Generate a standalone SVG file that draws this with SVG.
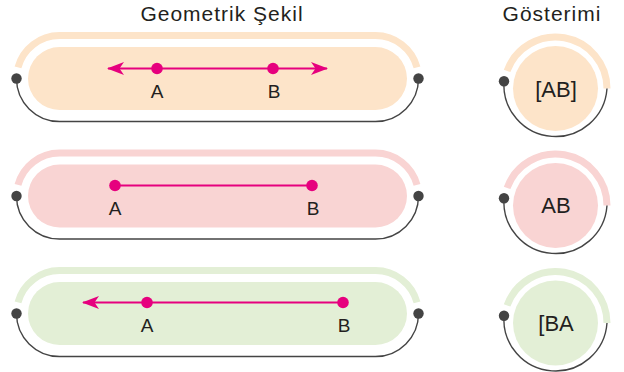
<svg xmlns="http://www.w3.org/2000/svg" width="624" height="372" viewBox="0 0 624 372">
<defs>
<style>
.t{font-family:"Liberation Sans",Arial,sans-serif;fill:#231f20}
.title{font-size:21px;letter-spacing:1px}
.lbl{font-size:19px;text-anchor:middle}
.sym{font-size:22px;text-anchor:middle}
.dark{fill:none;stroke:#444;stroke-width:1.4}
.dot{fill:#444}
.ray{stroke:#e6007e;stroke-width:2;fill:none}
.pt{fill:#e6007e}
.peach{fill:#fde4c9}.peachS{fill:none;stroke:#fde4c9;stroke-width:7}
.pink{fill:#f9d4d3}.pinkS{fill:none;stroke:#f9d4d3;stroke-width:7}
.green{fill:#e3efd6}.greenS{fill:none;stroke:#e3efd6;stroke-width:7}
</style>
<marker id="ah" markerUnits="userSpaceOnUse" viewBox="0 0 17 13" refX="16" refY="6.5" markerWidth="17" markerHeight="13" orient="auto-start-reverse">
<path d="M0,0 L17,6.5 L0,13 L4.5,6.5 z" fill="#e6007e"/>
</marker>
</defs>
<rect width="624" height="372" fill="#fff"/>
<text class="t title" x="222" y="21" text-anchor="middle">Geometrik Şekil</text>
<text class="t title" x="552" y="21" text-anchor="middle">Gösterimi</text>

<!-- Row 1 -->
<g id="row1-shape">
<rect class="peach" x="28" y="47" width="379" height="63" rx="31.5"/>
<path class="peachS" d="M18,67.4 A43,43 0 0 1 59.5,35.5 L375.5,35.5 A43,43 0 0 1 417,67.4"/>
<path class="dark" d="M16.5,78.5 A43,43 0 0 0 59.5,121.5 L375.5,121.5 A43,43 0 0 0 418.5,78.5"/>
<circle class="dot" cx="16.5" cy="78.5" r="5.2"/>
<circle class="dot" cx="418.5" cy="78.5" r="5.2"/>
</g>
<g id="row1-symbol">
<circle class="peach" cx="555.5" cy="88.5" r="42.5"/>
<path class="peachS" d="M507.1,70.9 A51.5,51.5 0 0 1 607,88.5"/>
<path class="dark" d="M504,81.3 A51.5,51.5 0 1 0 607,88.5"/>
<circle class="dot" cx="504" cy="81.3" r="5.2"/>
<text class="t sym" x="556" y="97">[AB]</text>
</g>

<!-- Row 2 -->
<g id="row2-shape">
<rect class="pink" x="28" y="164.5" width="379" height="63" rx="31.5"/>
<path class="pinkS" d="M18,184.9 A43,43 0 0 1 59.5,153 L375.5,153 A43,43 0 0 1 417,184.9"/>
<path class="dark" d="M16.5,196 A43,43 0 0 0 59.5,239 L375.5,239 A43,43 0 0 0 418.5,196"/>
<circle class="dot" cx="16.5" cy="196" r="5.2"/>
<circle class="dot" cx="418.5" cy="196" r="5.2"/>
</g>
<g id="row2-symbol">
<circle class="pink" cx="555.5" cy="205.5" r="42.5"/>
<path class="pinkS" d="M507.1,187.9 A51.5,51.5 0 0 1 607,205.5"/>
<path class="dark" d="M504,198.3 A51.5,51.5 0 1 0 607,205.5"/>
<circle class="dot" cx="504" cy="198.3" r="5.2"/>
<text class="t sym" x="556" y="213">AB</text>
</g>

<!-- Row 3 -->
<g id="row3-shape">
<rect class="green" x="28" y="282" width="379" height="63" rx="31.5"/>
<path class="greenS" d="M18,302.4 A43,43 0 0 1 59.5,270.5 L375.5,270.5 A43,43 0 0 1 417,302.4"/>
<path class="dark" d="M16.5,313.5 A43,43 0 0 0 59.5,356.5 L375.5,356.5 A43,43 0 0 0 418.5,313.5"/>
<circle class="dot" cx="16.5" cy="313.5" r="5.2"/>
<circle class="dot" cx="418.5" cy="313.5" r="5.2"/>
</g>
<g id="row3-symbol">
<circle class="green" cx="555.5" cy="323" r="42.5"/>
<path class="greenS" d="M507.1,305.4 A51.5,51.5 0 0 1 607,323"/>
<path class="dark" d="M504,315.8 A51.5,51.5 0 1 0 607,323"/>
<circle class="dot" cx="504" cy="315.8" r="5.2"/>
<text class="t sym" x="556" y="331">[BA</text>
</g>

<!-- Connectors (rays / segments) -->
<g id="connectors">
<line class="ray" x1="108" y1="68.5" x2="327" y2="68.5" marker-start="url(#ah)" marker-end="url(#ah)"/>
<line class="ray" x1="115" y1="185.5" x2="312" y2="185.5"/>
<line class="ray" x1="83" y1="302.5" x2="343" y2="302.5" marker-start="url(#ah)"/>
</g>

<g id="points">
<circle class="pt" cx="157" cy="68.5" r="5.8"/>
<circle class="pt" cx="273" cy="68.5" r="5.8"/>
<text class="t lbl" x="157" y="98">A</text>
<text class="t lbl" x="274" y="98">B</text>
<circle class="pt" cx="115" cy="185.5" r="5.8"/>
<circle class="pt" cx="312" cy="185.5" r="5.8"/>
<text class="t lbl" x="115" y="215">A</text>
<text class="t lbl" x="313" y="215">B</text>
<circle class="pt" cx="147" cy="302.5" r="5.8"/>
<circle class="pt" cx="343" cy="302.5" r="5.8"/>
<text class="t lbl" x="147" y="332">A</text>
<text class="t lbl" x="344" y="332">B</text>
</g>
</svg>
